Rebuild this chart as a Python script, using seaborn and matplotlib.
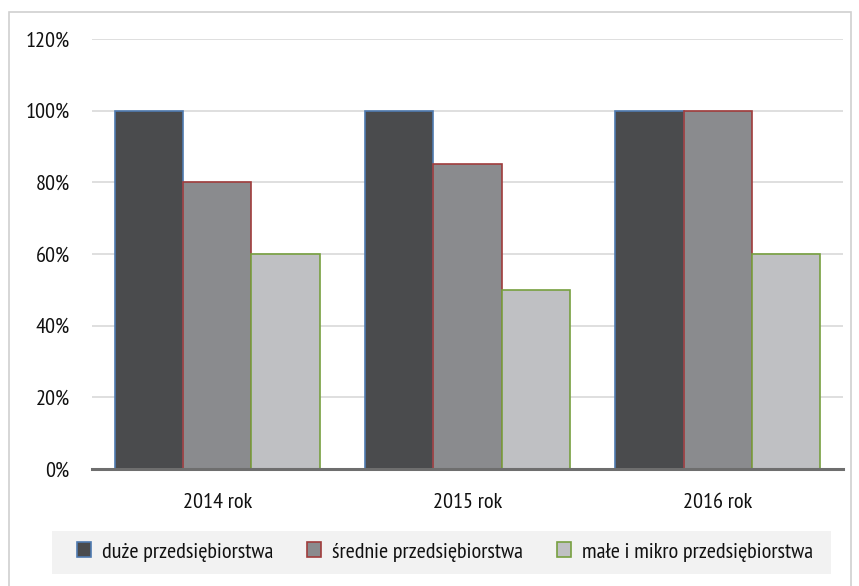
import matplotlib
matplotlib.use("Agg")
import matplotlib.pyplot as plt
from matplotlib.patches import Rectangle
from matplotlib.ticker import FuncFormatter
import seaborn as sns
import pandas as pd

categories = ["2014 rok", "2015 rok", "2016 rok"]
series = ["duże przedsiębiorstwa", "średnie przedsiębiorstwa", "małe i mikro przedsiębiorstwa"]
duze = [1.00, 1.00, 1.00]
srednie = [0.80, 0.85, 1.00]
male = [0.60, 0.50, 0.60]
yticks = [0, 0.2, 0.4, 0.6, 0.8, 1.0, 1.2]

fills = ["#4a4b4d", "#8a8b8e", "#bfc0c3"]
edges = ["#4f7bb0", "#a03c3c", "#77a040"]

df = pd.DataFrame({
    "kat": categories * 3,
    "seria": [series[0]] * 3 + [series[1]] * 3 + [series[2]] * 3,
    "val": duze + srednie + male,
})

sns.set_theme(style="white")
plt.rcParams["font.family"] = ["PT Sans Narrow", "IBM Plex Sans Condensed", "DejaVu Sans"]

fig = plt.figure(figsize=(8.59, 5.86), dpi=100)
ax = fig.add_axes([92 / 859, 1 - 469 / 586, (843 - 92) / 859, (469 - 39) / 586])

sns.barplot(data=df, x="kat", y="val", hue="seria", hue_order=series,
            palette=fills, width=0.82, saturation=1, ax=ax, legend=False)

for cont, ec in zip(ax.containers, edges):
    for bar in cont:
        bar.set_edgecolor(ec)
        bar.set_linewidth(1.2)

ax.set_ylim(0, 1.2)
ax.set_xlim(-0.5, 2.5)
ax.set_yticks(yticks)
ax.yaxis.set_major_formatter(FuncFormatter(lambda v, p: f"{round(v * 100)}%"))
ax.grid(axis="y", color="#d9d9d9", linewidth=1.2)
ax.set_axisbelow(True)
for s in ["left", "right", "top"]:
    ax.spines[s].set_visible(False)
ax.spines["bottom"].set_color("#6e6e6e")
ax.spines["bottom"].set_linewidth(2.2)
ax.set_xlabel("")
ax.set_ylabel("")
ax.tick_params(axis="y", length=0, pad=16, labelsize=16, labelcolor="#111111")
ax.tick_params(axis="x", length=0, pad=17, labelsize=16, labelcolor="#111111")

# legend background band
fig.patches.append(Rectangle((52 / 859, 1 - 574 / 586), (831 - 52) / 859, 43 / 586,
                             transform=fig.transFigure, facecolor="#f2f2f2",
                             edgecolor="none", zorder=0))

handles = [Rectangle((0, 0), 1, 1, facecolor=f, edgecolor=e, linewidth=1.2) for f, e in zip(fills, edges)]
leg = fig.legend(handles, series, loc="center",
                 bbox_to_anchor=(445 / 859, 1 - 552 / 586),
                 ncol=3, frameon=False,
                 fontsize=16, handlelength=0.65, handleheight=0.65, handletextpad=0.5,
                 columnspacing=1.5, borderaxespad=0, borderpad=0.3, labelcolor="#111111")

fig.patches.append(Rectangle((9 / 859, -0.05), (851 - 9) / 859, (586 - 12) / 586 + 0.05,
                             transform=fig.transFigure, fill=False,
                             edgecolor="#d0d0d0", linewidth=1.2, zorder=0))

fig.savefig("out.png", dpi=100)
